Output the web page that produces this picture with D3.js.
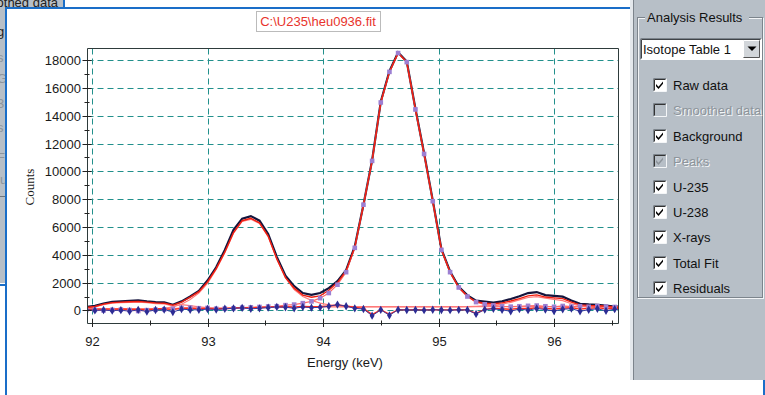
<!DOCTYPE html>
<html><head><meta charset="utf-8">
<script src="https://cdn.jsdelivr.net/npm/d3@7"></script>
<style>html,body{margin:0;padding:0;background:#fff;overflow:hidden}svg{display:block}</style>
</head><body>
<svg id="c" width="765" height="395"></svg>
<script>
// ---------- data ----------
const energy = [91.95,92.025,92.10,92.175,92.25,92.325,92.40,92.475,92.55,92.625,92.70,92.775,92.85,92.925,93.00,93.075,93.15,93.225,93.30,93.375,93.45,93.525,93.60,93.675,93.75,93.825,93.90,93.975,94.05,94.125,94.20,94.275,94.35,94.425,94.50,94.575,94.65,94.725,94.80,94.875,94.95,95.025,95.10,95.175,95.25,95.325,95.40,95.475,95.55,95.625,95.70,95.775,95.85,95.925,96.00,96.075,96.15,96.225,96.30,96.375,96.45,96.525,96.60];
const rawData = [250,330,500,620,660,690,730,650,590,580,400,650,1000,1400,2150,3100,4350,5800,6600,6780,6450,5500,3850,2500,1750,1250,1120,1250,1600,2100,2900,4600,7600,10800,15000,17200,18550,17900,14500,11300,7900,4400,2800,1700,1080,700,640,560,650,820,1020,1250,1320,1100,1040,990,720,480,430,400,350,280,260];
const totalFit = [200,280,450,560,600,620,650,600,540,520,380,600,950,1350,2050,3000,4200,5600,6450,6620,6300,5350,3700,2350,1600,1100,950,1050,1450,2000,2850,4550,7550,10750,14950,17150,18500,17850,14450,11250,7850,4350,2750,1650,1020,620,520,480,540,680,850,1050,1120,960,900,850,600,400,360,340,300,250,230];
const u235 = [100,110,100,110,120,110,100,110,120,150,250,450,780,1250,1950,2950,4150,5550,6400,6550,6250,5300,3700,2350,1500,1000,720,520,400,330,300,280,270,270,270,270,270,270,270,270,270,270,270,270,270,270,270,270,270,270,270,270,270,270,270,270,270,270,270,270,270,270,270];
const u238 = [180,260,420,520,560,580,600,550,480,470,330,420,350,250,200,180,170,170,180,190,200,210,220,230,240,250,250,260,260,260,260,260,260,260,260,260,260,260,260,260,260,260,260,260,270,290,320,360,450,580,760,930,990,880,800,700,480,330,290,280,270,260,250];
const xrays = [20,30,0,40,60,30,-40,20,50,80,120,180,200,160,180,120,130,150,200,220,250,280,300,380,420,520,650,880,1250,1850,2750,4500,7600,10750,14950,17150,18500,17850,14450,11250,7850,4350,2750,1650,1000,600,440,360,300,270,300,330,350,300,260,320,280,300,260,320,280,250,260];
const background = [80,90,100,90,100,80,90,70,100,130,60,150,140,120,130,110,140,170,200,180,200,240,270,260,250,280,260,280,320,400,320,220,150,-300,50,-280,60,40,60,40,60,40,40,50,40,-220,80,150,120,80,150,120,200,150,100,160,200,100,150,200,120,160,140];
const residuals = [50,0,30,-20,20,-60,40,-80,30,60,-120,90,50,40,100,60,120,150,180,120,150,200,250,230,150,250,200,220,300,420,300,150,100,-380,40,-350,50,30,40,20,50,30,20,40,30,-250,60,120,40,-60,100,20,140,60,-40,80,130,-60,50,120,-30,90,40];
const yMajor = [0,2000,4000,6000,8000,10000,12000,14000,16000,18000];
const yMinor = [1000,3000,5000,7000,9000,11000,13000,15000,17000];
const xMajor = [92,93,94,95,96];
const xMinor = [92.5,93.5,94.5,95.5,96.5];
const title = "C:\\U235\\heu0936.fit";
const panelTitle = "Analysis Results";
const dropdownText = "Isotope Table 1";
const checkLabels = ["Raw data","Smoothed data","Background","Peaks","U-235","U-238","X-rays","Total Fit","Residuals"];
const checkEnabled = [true,false,true,false,true,true,true,true,true];

// ---------- drawing ----------
const svg = d3.select('#c');
const FONT = "'Liberation Sans', Arial, sans-serif";
const PANEL = '#b7bfc7';
const BLUE = '#1a6ec8';

svg.append('rect').attr('x',0).attr('y',0).attr('width',765).attr('height',395).attr('fill','#fff');
// top-left tab (partially hidden window behind)
const tabClip = svg.append('clipPath').attr('id','tabclip');
tabClip.append('rect').attr('x',0).attr('y',0).attr('width',63).attr('height',8);
svg.append('rect').attr('x',0).attr('y',0).attr('width',63).attr('height',8).attr('fill',PANEL);
svg.append('text').attr('clip-path','url(#tabclip)').attr('x',58).attr('y',7).attr('text-anchor','end')
  .attr('font-family',FONT).attr('font-size',13).attr('fill','#222').text('Smoothed data');
svg.append('rect').attr('x',63).attr('y',0).attr('width',2).attr('height',9).attr('fill',BLUE);
// left strip
const lsClip = svg.append('clipPath').attr('id','lsclip');
lsClip.append('rect').attr('x',0).attr('y',8).attr('width',5).attr('height',275);
svg.append('rect').attr('x',0).attr('y',8).attr('width',5).attr('height',275).attr('fill',PANEL);
const frag = [["g",36,'#222'],["s",62,'#8d949b'],["G",83,'#8d949b'],["3",108,'#8d949b'],["s",132,'#8d949b'],["F",162,'#8d949b'],["lu",184,'#8d949b']];
svg.append('g').attr('clip-path','url(#lsclip)').selectAll('text').data(frag).join('text')
  .attr('x',-3).attr('y',d=>d[1]).attr('font-family',FONT).attr('font-size',13).attr('fill',d=>d[2]).text(d=>d[0]);
svg.append('rect').attr('x',0).attr('y',196).attr('width',5).attr('height',1).attr('fill','#6d747b');
svg.append('rect').attr('x',0).attr('y',284).attr('width',6).attr('height',2).attr('fill',BLUE);
// blue window border
svg.append('rect').attr('x',5).attr('y',7).attr('width',628).attr('height',2).attr('fill',BLUE);
svg.append('rect').attr('x',5).attr('y',7).attr('width',2).attr('height',388).attr('fill',BLUE);

// ---------- plot ----------
const x = d3.scaleLinear().domain([91.961, 96.558]).range([87.5, 618.5]);
const y = d3.scaleLinear().domain([-940, 18830]).range([323.5, 48.5]);
const xA = x.copy().interpolate(d3.interpolateRound);
const yA = y.copy().interpolate(d3.interpolateRound);
const L = 87.5, R = 618.5, T = 48.5, B = 323.5;

const clip = svg.append('clipPath').attr('id','plotclip');
clip.append('rect').attr('x',L).attr('y',T).attr('width',R-L).attr('height',B-T);

// grid
const GRID = '#22908c';
const grid = svg.append('g');
grid.selectAll('line.h').data(yMajor).join('line')
  .attr('x1',L).attr('x2',R).attr('y1',d=>yA(d)+0.5).attr('y2',d=>yA(d)+0.5)
  .attr('stroke',GRID).attr('stroke-width',1).attr('stroke-dasharray','6,4');
grid.selectAll('line.v').data(xMajor).join('line')
  .attr('x1',d=>xA(d)+0.5).attr('x2',d=>xA(d)+0.5).attr('y1',T).attr('y2',B)
  .attr('stroke',GRID).attr('stroke-width',1).attr('stroke-dasharray','6,4');

const data = energy.map((e,i)=>({e,raw:rawData[i],fit:totalFit[i],u235:u235[i],u238:u238[i],xr:xrays[i],bg:background[i],res:residuals[i]}));
const line = key => d3.line().x(d=>x(d.e)).y(d=>y(d[key]));
const g = svg.append('g').attr('clip-path','url(#plotclip)');

g.append('path').datum(data).attr('d',line('raw')).attr('fill','none').attr('stroke','#14143c').attr('stroke-width',2.2);
[['u235','#ff7a7a',1.2],['u238','#ff7a7a',1.2],['xr','#ff6a6a',1.2],['bg','#ff2a1a',1.4],['res','#3a3aa0',1],['fit','#f01e10',1.4]].forEach(([k,c,w])=>{
  g.append('path').datum(data).attr('d',line(k)).attr('fill','none').attr('stroke',c).attr('stroke-width',w);
});
g.selectAll('rect.xr').data(data).join('rect')
  .attr('x',d=>x(d.e)-2.3).attr('y',d=>y(d.xr)-2.3).attr('width',4.6).attr('height',4.6).attr('fill','#9c7fd2');
g.selectAll('path.res').data(data).join('path')
  .attr('transform',d=>`translate(${x(d.e)},${y(d.res)})`)
  .attr('d',d3.symbol(d3.symbolDiamond,20)()).attr('fill','#2c2c94');

// border
svg.append('path').attr('d',`M${L},${T}H${R}V${B}`).attr('fill','none').attr('stroke','#2e3b3b').attr('stroke-width',1);

// axes
const yAx = svg.append('g').attr('transform',`translate(${L-0.5},0)`)
  .call(d3.axisLeft(yA).tickValues(yMajor).tickSize(4.5).tickPadding(1.5).tickFormat(d3.format('d')));
yAx.selectAll('.tick line').attr('x1',4.5);
const yAxm = svg.append('g').attr('transform',`translate(${L-0.5},0)`)
  .call(d3.axisLeft(yA).tickValues(yMinor).tickSize(2.5).tickFormat(''));
yAxm.selectAll('.tick line').attr('x1',2.5);
yAxm.select('.domain').remove();
const xAx = svg.append('g').attr('transform',`translate(0,${B-0.5})`)
  .call(d3.axisBottom(xA).tickValues(xMajor).tickSize(4).tickPadding(9.5).tickFormat(d3.format('d')));
xAx.selectAll('.tick line').attr('y1',-4);
const xAxm = svg.append('g').attr('transform',`translate(0,${B-0.5})`)
  .call(d3.axisBottom(xA).tickValues(xMinor).tickSize(2.5).tickFormat(''));
xAxm.selectAll('.tick line').attr('y1',-2.5);
xAxm.select('.domain').remove();
yAx.select('.domain').attr('d',`M0.5,${B}V${T}`);
xAx.select('.domain').attr('d',`M${L},0.5H${R}`);
[yAx,yAxm,xAx,xAxm].forEach(a=>{
  a.selectAll('.domain').attr('stroke','#2e3b3b');
  a.selectAll('.tick line').attr('stroke','#222');
  a.selectAll('text').attr('font-family',FONT).attr('font-size',13).attr('fill','#1a1a1a');
});

svg.append('text').attr('x',345).attr('y',367).attr('text-anchor','middle')
  .attr('font-family',FONT).attr('font-size',13).attr('fill','#1a1a1a').text('Energy (keV)');
svg.append('text').attr('transform','translate(34,187) rotate(-90)').attr('text-anchor','middle')
  .attr('font-family',"'Liberation Serif', 'Times New Roman', serif").attr('font-size',13).attr('fill','#1a1a1a').text('Counts');

// title
svg.append('rect').attr('x',256.5).attr('y',11.5).attr('width',124).attr('height',20)
  .attr('fill','#fff').attr('stroke','#777').attr('stroke-dasharray','1,1');
svg.append('text').attr('x',318).attr('y',25.5).attr('text-anchor','middle')
  .attr('font-family',FONT).attr('font-size',13).attr('fill','#e8342c').text(title);

// ---------- right panel ----------
const P = svg.append('g');
P.append('rect').attr('x',630).attr('y',0).attr('width',135).attr('height',380).attr('fill',PANEL);
P.append('rect').attr('x',630).attr('y',0).attr('width',3).attr('height',380).attr('fill','#e4e8ec');
P.append('rect').attr('x',633).attr('y',0).attr('width',1).attr('height',380).attr('fill','#7c848c');
P.append('rect').attr('x',763).attr('y',380).attr('width',2).attr('height',15).attr('fill',BLUE);
// group box (etched)
const gb = {x:637.5,y:17.5,w:125,h:280};
P.append('rect').attr('x',gb.x+1).attr('y',gb.y+1).attr('width',gb.w).attr('height',gb.h).attr('fill','none').attr('stroke','#f2f4f6');
P.append('rect').attr('x',gb.x).attr('y',gb.y).attr('width',gb.w).attr('height',gb.h).attr('fill','none').attr('stroke','#7c848c');
P.append('rect').attr('x',645).attr('y',8).attr('width',104).attr('height',16).attr('fill',PANEL);
P.append('text').attr('x',647).attr('y',21.5).attr('font-family',FONT).attr('font-size',13).attr('fill','#111').text(panelTitle);
// dropdown
P.append('rect').attr('x',640).attr('y',38).attr('width',122).attr('height',22).attr('fill','#fff');
P.append('path').attr('d','M640.5,59.5V38.5H761.5').attr('fill','none').attr('stroke','#7c848c');
P.append('path').attr('d','M641.5,58.5V39.5H760.5').attr('fill','none').attr('stroke','#404448');
P.append('text').attr('x',643).attr('y',54).attr('font-family',FONT).attr('font-size',13).attr('fill','#111').text(dropdownText);
P.append('rect').attr('x',743).attr('y',40).attr('width',17).attr('height',18).attr('fill','#d2d6da');
P.append('path').attr('d','M743.5,57.5V40.5H759.5').attr('fill','none').attr('stroke','#fff');
P.append('path').attr('d','M743.5,57.5H759.5V40.5').attr('fill','none').attr('stroke','#555');
P.append('path').attr('d','M747.5,46.5H756.5L752,51Z').attr('fill','#000');
// checkboxes
const rowY = d3.scalePoint().domain(checkLabels).range([85,288]);
const rows = P.selectAll('g.cb').data(checkLabels).join('g').attr('transform',d=>`translate(653,${Math.round(rowY(d))})`);
rows.append('rect').attr('x',0).attr('y',-6.5).attr('width',13).attr('height',13)
  .attr('fill',(d,i)=>checkEnabled[i]?'#fff':PANEL);
rows.append('path').attr('d','M0.5,6.5V-6.5H13.5').attr('fill','none').attr('stroke','#7c848c');
rows.append('path').attr('d','M1.5,5.5V-5.5H12.5').attr('fill','none').attr('stroke','#333');
rows.append('path').attr('d','M0.5,6.5H13.5V-6.5').attr('fill','none').attr('stroke','#f4f6f8');
rows.filter(d=>d!=='Smoothed data').append('path')
  .attr('d','M3,-1 L5.5,1.8 L10,-3.5 L10,-1.2 L5.5,4 L3,1.3 Z')
  .attr('fill',d=>d==='Peaks'?'#8d949b':'#000');
rows.filter(d=>!checkEnabled[checkLabels.indexOf(d)]).append('text')
  .attr('x',21).attr('y',5.5).attr('font-family',FONT).attr('font-size',13).attr('fill','#f4f6f8').text(d=>d);
rows.append('text').attr('x',20).attr('y',4.5).attr('font-family',FONT).attr('font-size',13)
  .attr('fill',d=>checkEnabled[checkLabels.indexOf(d)]?'#111':'#8d949b').text(d=>d);
</script>
</body></html>
